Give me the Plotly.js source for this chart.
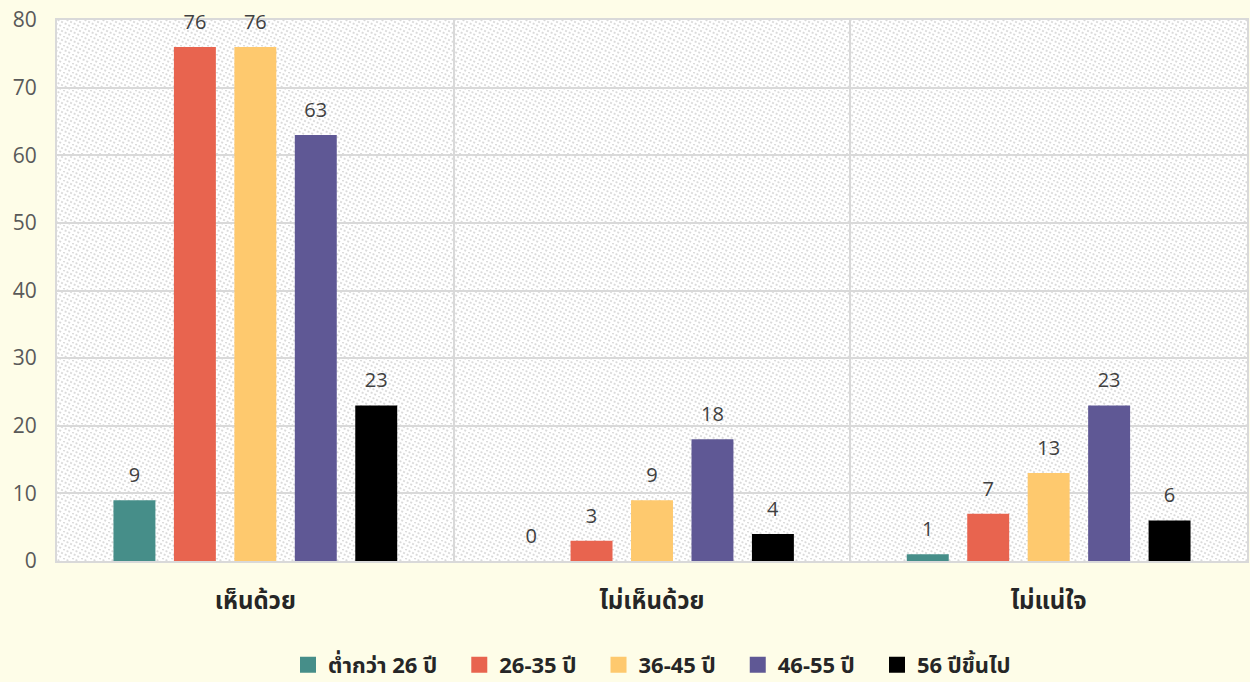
<!DOCTYPE html>
<html>
<head>
<meta charset="utf-8">
<script src="https://cdn.plot.ly/plotly-3.0.1.min.js"></script>
<style>html,body{margin:0;padding:0;background:#FEFDE8;}#chart{width:1250px;height:682px;}</style>
</head>
<body>
<div id="chart"></div>
<script>
const categories = ["เห็นด้วย", "ไม่เห็นด้วย", "ไม่แน่ใจ"];
const seriesNames = ["ต่ำกว่า 26 ปี", "26-35 ปี", "36-45 ปี", "46-55 ปี", "56 ปีขึ้นไป"];
const under26 = [9, 0, 1];
const age26to35 = [76, 3, 7];
const age36to45 = [76, 9, 13];
const age46to55 = [63, 18, 23];
const age56up = [23, 4, 6];
const yTicks = [0, 10, 20, 30, 40, 50, 60, 70, 80];

const seriesValues = [under26, age26to35, age36to45, age46to55, age56up];
const colors = ["#468E89", "#E8644F", "#FEC96E", "#5F5895", "#000000"];
const font = "'Open Sans', 'Noto Sans', 'Noto Sans Thai', Tahoma, sans-serif";

const bars = seriesValues.map((vals, i) => ({
  type: "bar",
  name: seriesNames[i],
  x: categories,
  y: vals,
  marker: {color: colors[i]},
  text: vals.map(String),
  textposition: "outside",
  textfont: {size: 20, color: "#404040", family: font},
  cliponaxis: false,
  showlegend: false,
  offsetgroup: String(i),
  hoverinfo: "x+y+name"
}));

// legend entries with larger square swatches
const pad = "\u00a0\u00a0\u00a0";
const legendTraces = seriesNames.map((n, i) => ({
  type: "scatter",
  mode: "markers",
  name: i < seriesNames.length - 1 ? n + pad : n,
  x: [null], y: [null],
  marker: {symbol: "square", size: 19, color: colors[i]},
  showlegend: true,
  hoverinfo: "skip"
}));

const layout = {
  width: 1250, height: 682,
  paper_bgcolor: "#FEFDE8",
  plot_bgcolor: "#FFFFFF",
  margin: {l: 57, r: 3, t: 20, b: 121, autoexpand: false},
  barmode: "group",
  bargap: 0.238,
  bargroupgap: 0.306,
  font: {family: font, color: "#404040"},
  xaxis: {
    type: "category",
    tickson: "boundaries",
    layer: "below traces",
    automargin: false,
    showgrid: true, gridcolor: "#D9D9D9", gridwidth: 2,
    showline: true, linecolor: "#D9D9D9", linewidth: 2, mirror: true,
    ticks: "", ticklen: 0,
    ticklabelstandoff: 17,
    tickfont: {size: 24, color: "#262626", weight: "bold", family: font},
    fixedrange: true
  },
  yaxis: {
    range: [0, 80],
    tickvals: yTicks,
    ticktext: yTicks.map(String),
    layer: "below traces",
    automargin: false,
    showgrid: true, gridcolor: "#D9D9D9", gridwidth: 2,
    showline: true, linecolor: "#D9D9D9", linewidth: 2, mirror: true,
    zeroline: false,
    ticks: "", ticklabelstandoff: 14,
    tickfont: {size: 21, color: "#595959", family: font},
    fixedrange: true
  },
  legend: {
    orientation: "h",
    x: 0.5, xanchor: "center",
    yref: "container",
    y: 0.025, yanchor: "middle",
    font: {size: 22, color: "#262626", weight: "bold", family: font},
    itemwidth: 30,
    tracegroupgap: 0,
    traceorder: "normal"
  },
  showlegend: true
};

Plotly.newPlot("chart", bars.concat(legendTraces), layout, {displayModeBar: false, staticPlot: true}).then(gd => {
  const svg = gd.querySelector("svg.main-svg");
  const ns = "http://www.w3.org/2000/svg";
  let defs = svg.querySelector("defs");
  if (!defs) { defs = document.createElementNS(ns, "defs"); svg.insertBefore(defs, svg.firstChild); }
  const pat = document.createElementNS(ns, "pattern");
  pat.setAttribute("id", "hatchbg");
  pat.setAttribute("patternUnits", "userSpaceOnUse");
  pat.setAttribute("width", "9");
  pat.setAttribute("height", "9");
  const rect = document.createElementNS(ns, "rect");
  rect.setAttribute("width", "9"); rect.setAttribute("height", "9"); rect.setAttribute("fill", "#FFFFFF");
  pat.appendChild(rect);
  [[-9, 0], [0, 0], [0, -9]].forEach(([dx, dy]) => {
    const p = document.createElementNS(ns, "path");
    p.setAttribute("d", `M${dx} ${dy} L${dx + 18} ${dy + 9}`);
    p.setAttribute("stroke", "#DADADA");
    p.setAttribute("stroke-width", "1.8");
    p.setAttribute("stroke-dasharray", "2 2");
    p.setAttribute("fill", "none");
    pat.appendChild(p);
  });
  defs.appendChild(pat);
  const bg = svg.querySelector("rect.bg");
  if (bg) { bg.style.fill = "url(#hatchbg)"; bg.style.fillOpacity = "1"; }
  // lift the outside value labels a little above the bars, like the reference
  gd.querySelectorAll("g.trace.bars g.point text").forEach(t => {
    const tr = t.getAttribute("transform") || "";
    t.setAttribute("transform", tr + " translate(0,-9)");
  });
});
</script>
</body>
</html>
